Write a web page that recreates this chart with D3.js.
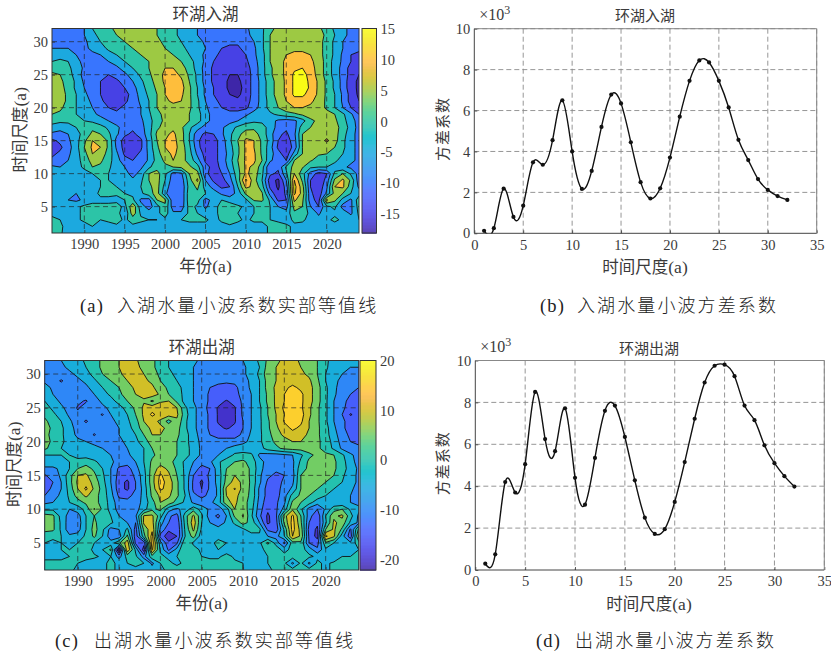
<!DOCTYPE html>
<html><head><meta charset="utf-8">
<script src="https://cdn.jsdelivr.net/npm/d3@7/dist/d3.min.js"></script>
<style>
html,body{margin:0;padding:0;background:#fff}
svg{display:block}
.num{font-family:"Liberation Serif",serif;fill:#3a3a3a}
.cjk{font-family:"Noto Sans CJK SC",sans-serif;fill:#3a3a3a}
</style></head><body>
<svg id="c" width="831" height="655"></svg>
<script>
// ---------- data ----------
const years = d3.range(1986, 2025);
const inflowLevels = [-15,-10,-5,0,5,10,15];
const outflowLevels = [-20,-15,-10,-5,0,5,10,15,20];
const inflowRange = [-18.1,15.1];
const outflowRange = [-22,20];
const yearTicks = [1990,1995,2000,2005,2010,2015,2020];
const scaleTicks = [5,10,15,20,25,30];
const inflowBarTicks = [-15,-10,-5,0,5,10,15];
const outflowBarTicks = [-20,-10,0,10,20];

// rows run from scale 32 (first) down to scale 1 (last); columns are 1986..2024
const inflowGrid = [
[-7,-7,-7,-6,-5, 0,2,4,6,7, 7,7,6,5,3, 1,-1,-3,-5,-6, -7,-7,-7,-7,-6, -3,-1,4,6,7, 7,7,7,6,3, -1,-4,-6,-6],
[-7,-7,-7,-6,-5, -1,1,3,5,7, 7,7,6,5,3, 1,-1,-3,-5,-6, -8,-8,-8,-8,-6, -4,-1,5,7,8, 8,8,8,7,4, 0,-4,-6,-6],
[-7,-7,-6,-6,-6, -3,0,2,3,5, 7,7,7,6,4, 2,0,-2,-3,-6, -8,-9,-9,-9,-7, -5,-1,5,7,8, 9,9,9,7,3, -1,-5,-8,-9],
[-5,-5,-5,-6,-6, -4,-2,1,2,3, 5,6,7,7,5, 3,1,-1,-3,-5, -8,-10,-11,-11,-8, -6,-1,5,7,9, 9,9,9,7,3, -1,-5,-8,-9],
[-3,-2,-3,-5,-7, -6,-5,-2,0,2, 3,5,6,7,6, 5,3,0,-3,-6, -9,-11,-12,-12,-10, -6,-2,5,8,10, 11,11,10,7,3, -1,-6,-10,-11],
[0,1,0,-3,-7, -8,-7,-5,-3,0, 2,3,5,7,8, 7,5,2,-2,-6, -10,-12,-13,-13,-11, -7,-2,5,8,11, 12,12,11,8,3, -2,-6,-10,-13],
[3,3,1,-2,-6, -9,-10,-8,-6,-3, 0,2,5,8,10, 10,7,3,-2,-7, -11,-13,-14,-14,-12, -8,-2,4,8,11, 14,15,12,8,3, -2,-7,-12,-14],
[6,5,2,-2,-7, -9,-10,-10,-8,-6, -3,1,4,8,11, 12,9,4,-1,-7, -11,-13,-15,-15,-13, -8,-2,4,8,11, 16,17,13,8,3, -2,-7,-12,-15],
[8,6,3,-1,-6, -9,-10,-11,-11,-8, -5,-1,3,7,11, 13,11,5,-1,-7, -11,-13,-16,-16,-13, -8,-3,3,7,11, 16,17,14,9,4, -1,-7,-13,-16],
[9,7,3,-1,-5, -8,-10,-12,-12,-10, -7,-2,2,6,10, 13,12,6,0,-6, -10,-13,-16,-17,-13, -8,-3,3,7,11, 16,18,14,9,4, -1,-7,-13,-16],
[10,7,4,0,-4, -7,-10,-13,-14,-12, -8,-3,1,5,10, 12,11,6,0,-6, -10,-12,-15,-16,-13, -8,-3,3,7,11, 16,16,13,9,4, 0,-6,-12,-16],
[8,7,4,0,-3, -6,-9,-12,-13,-11, -8,-4,0,5,9, 11,10,6,1,-5, -9,-11,-14,-14,-12, -8,-3,2,6,10, 13,13,11,8,4, 0,-6,-12,-15],
[7,6,3,0,-3, -5,-8,-10,-11,-9, -8,-5,0,5,8, 8,8,6,1,-4, -8,-10,-11,-12,-11, -7,-3,2,5,8, 10,10,9,8,4, 0,-5,-10,-14],
[5,4,2,0,-2, -4,-6,-8,-9,-9, -8,-5,-1,4,6, 7,7,5,2,-3, -7,-8,-9,-8,-6, -3,-2,-1,1,3, 4,6,7,7,7, 5,1,-4,-10],
[2,1,1,1,0, -1,-3,-5,-7,-8, -8,-6,-2,3,6, 7,7,5,2,-3, -7,-8,-7,-5,-2, -1,-1,-3,-6,-7, -6,-2,4,6,7, 6,2,-3,-7],
[-2,-3,-2,0,2, 4,2,-1,-4,-7, -9,-7,-2,4,7, 9,6,1,-3,-7, -8,-6,-2,1,3, 4,2,-2,-7,-9, -7,3,5,7,8, 7,3,-2,-7],
[-6,-7,-5,-2,2, 6,5,1,-4,-9, -11,-8,-2,6,9, 11,7,0,-8,-11, -10,-6,-1,3,8, 7,3,-3,-9,-11, -6,5,7,7,8, 7,2,-3,-7],
[-11,-9,-6,-2,4, 10,9,4,-7,-12, -13,-11,-3,5,10, 12,7,0,-9,-13, -12,-8,-1,5,11, 10,4,-2,-10,-13, -7,5,6,7,11, 7,1,-3,-7],
[-12,-11,-7,-2,5, 11,10,4,-6,-12, -14,-11,-3,4,10, 12,8,1,-8,-14, -12,-8,-2,4,11, 10,4,-3,-11,-14, -8,5,6,7,6, 5,1,-3,-7],
[-11,-9,-6,-2,3, 10,8,3,-4,-11, -12,-9,-4,3,8, 11,8,2,-6,-12, -12,-8,-3,4,11, 11,4,-3,-8,-13, -3,5,6,5.5,5, 2,0,-3,-7],
[-9,-8,-5,-2,2, 7,6,2,-3,-8, -10,-9,-4,2,6, 10,7,3,-3,-11, -12,-8,-2,5,11, 11,5,-4,-8,-10, 5,6,5.5,3,2, 1,-2,-4,-6],
[-4,-5,-4,-2,1, 5,4,1,-3,-5, -8,-6,-1,3,4, 5,6,6,2,-8, -12,-9,-3,4,11, 9,2,-10,-9,1, 7,5.5,1,0,0, -2,-4,-6,-7],
[-3,-3,-3,-3,-2, 0,1,0,-2,-3, -7,-3,5,7,1, -7,-6,5,7,-9, -12,-10,-5,3,11, 8,1,-9,-11,-1, 10,2,-7,-12,-10, 1,5,-1,-7],
[-2,-2,-3,-3,-3, -1,0,0,-1,-2, -4,-1,5,7,0, -8,-8,3,11,-5, -11,-12,-7,2,16, 7,0,-13,-16,-5, 15,4,-10,-15,-8, 6,11,4,-8],
[-2,-3,-3,-4,-4, -2,0,1,0,-1, -3,0,4,7,-2, -9,-9,2,6,-2, -7,-11,-10,0,11, 9,2,-11,-16,-8, 17,7,-10,-14,-6, 10,11,2,-6],
[-1,-3,-4,-5,-4, -2,1,2,1,0, -1,-1,3,7,-4, -9,-9,3,4,0, -2,-6,-8,-3,6, 8,5.5,-7,-14,-9, 16,8,-9,-13,-4, 7,5,0,-2],
[-1,-3,-5,-6,-4, -2,-1,-2,-2,0, 1,-6,-7,5,6, -9,-9,3,2,-7, -3,0,-2,-4,-1, 5.5,6,-1,-11,-10, 11,6,-8,-12,10.5, 6,-2,-6,3],
[-2,-3,-3,-1,1, 2,1,2,3,-2, 9,-3,-7,-2,4, -8,-8,2,-1,-6, -2,2,3,1,-1, 0,1,0,-5,-7, 7,5,-5,-10,-1, 1,-7,-6,2],
[-1,-2,-3,-2,2, 3,0,1,3,-5, 8,-1,-3,-1,2, -4,-4,1,0,-3, -1,1,0,0,-1, 0,0,0,-1,-3, 4,2,-1,-6,-1, -1,-2,-6,1],
[1,0,-1,-1,1, 2,0,1,2,-1, 2,1,0,0,-1, -1,0,1,1,1, -2,1,3,1,-1, 1,1,0,-1,-2, 1,1,-2,-3,-1, 1,-1,-2,0],
[2,1,-2,-3,-2, 0,-2,-2,-1,-2, -1,-2,-3,-3,-3, -3,-2,-2,-2,-2, -3,-2,-1,-2,-3, -2,-2,1,2,1, -1,-2,-3,-3,-2, -2,-3,-3,-2],
[3,1,-3,-3,-2, -1,-3,-2,0,-3, -2,-3,-3,-3,-3, -3,-3,-3,-3,-3, -3,-3,-2,0,-3, -3,-2,1,2,1, -1,-3,-3,-3,-3, -3,-3,-3,-3]
];

const outflowGrid = [
[-7,-7,-5,-3,-2, 1,3,6,8,10, 12,11,7,6,3, 0,-2,-3,-4,-6, -8,-8,-8,-7,-5, -3,1,6,9,11, 12,9,8,5,1, -2,-4,-5,-5],
[-8,-8,-6,-4,-2, 0,3,6,8,10, 13,12,8,6,3, 0,-2,-3,-5,-7, -9,-9,-8,-8,-6, -3,0,7,10,11, 12,10,8,5,1, -3,-4,-5,-5],
[-8,-8,-7,-6,-4, -2,2,5,7,9, 12,12,10,7,4, 1,-1,-3,-5,-7, -9,-9,-9,-9,-6, -3,1,8,10,11, 12,11,9,5,0, -3,-5,-7,-7],
[-6,-8,-10.5,-8,-6, -4,-1,3,5,8, 10,13,11,9,5, 3,0,-2,-5,-7, -9,-9,-9,-9,-7, -4,0,7,10,12, 13,13,11,6,0, -4,-6,-8,-8],
[-3,-6,-8,-9,-8, -6,-3,0,3,5, 8,11,13,11,7, 4,2,-2,-5,-7, -10,-11,-12,-11,-8, -4,0,7,11,14, 16,14,12,7,1, -4,-7,-9,-10],
[-1,-5,-7,-8,-9, -7,-5,-2,1,4, 7,10,11,13,9, 5,3,-2,-5,-7, -11,-11,-11,-11,-9, -5,0,6,11,15, 17,16,12,7,1, -4,-8,-10,-11],
[0,-3,-6,-8,-9, -10.5,-7,-4,-2,2, 5,8,9.5,4,9.5, 10,4,-2,-5,-7, -11,-13,-15.5,-13,-9, -5,0,6,11,15, 17,16,12,7,1, -5,-9,-11,-12],
[2,-1,-4,-7,-10.5, -8,-7,-6,-4,-2, 2,6,11,13,12, 12,10,1,-4,-7, -12,-15.5,-16,-15.5,-9, -5,-1,5,11,16, 17,16,11,6,1, -5,-9,-12,-13],
[4,1,-2,-6,-9, -8,-8,-10.5,-5,-3, 0,5,11,16,13, 12,11,2,-4,-7, -11,-15.5,-17,-15.5,-9, -5,-1,5,10,15, 17,17,11,6,1, -5,-10,-15.5,-13],
[6,3,0,-4,-8, -10.5,-8,-7,-6,-4, -1,3,10,12,9, 3,9,1,-4,-7, -11,-15.5,-17,-15.5,-10, -5,-1,4,10,15.5, 15.5,16,10,6,1, -5,-9,-12,-13],
[7,4,1,-3,-7, -8,-8,-7,-6,-5, -2,2,8,11,11, 9,7,1,-4,-7, -11,-14,-15.5,-14,-10, -5,-1,4,9,13, 16,14,10,6,2, -4,-9,-12,-13],
[6,4,1,-3,-6, -7,-10.5,-7,-6,-5, -3,0,5,10,10, 8,6,2,-3,-7, -10,-11,-12,-12,-9, -4,-1,3,8,11, 13,12,9,6,2, -3,-8,-11,-13],
[7,4,1,-2,-4, -5,-6,-6,-6,-6, -4,-1,2,8,7, 5,5,2,-3,-6, -8,-9,-8,-8,-6, -4,-1,3,6,8, 10,10,8,6,3, -2,-7,-10,-11],
[6,3,0,-1,-3, -4,-4,-5,-6,-7, -5,-3,0,5,7, 6,5,2,-2,-6, -7,-7,-5,-3,-3, -3,-2,2,4,6, 7,7,7,6,3, -1,-6,-8,-9],
[0,0,0,0,-1, -2,-3,-4,-5,-7, -6,-3,0,4,7, 6,5,2,-2,-6, -7,-5,-3,1,2, 1,-6,-7,-7,-6, -5,-1,4,6,6, 5,1,-4,-7],
[-2,-2,-1,0,1, 3,1,-2,-4,-7, -8,-5,0,6,8, 7,3,-1,-5,-8, -6,-1,3,5,6, 3,-3,-7,-8,-8, -6,1,6,7,8, 6,2,-3,-7],
[-6,-6,-4,0,5, 7,4,0,-5,-11, -12,-7,-1,7,12, 9,4,-1,-7,-12, -10,-2,5,8,8, 4,-3,-8,-9,-9, -6,3,6,7,8, 6,2,-2,-6],
[-10.5,-8,-4,3,10, 11,6,1,-5,-12, -13,-9,-2,8,16, 11,5,-1,-10,-13, -9,-3,6,10,8, 4,-4,-9,-11,-10, -7,5,6,6,6, 5,1,-3,-6],
[-12,-10,-5,3,11, 13,8,2,-5,-13, -16,-10,-2,8,17, 13,6,-1,-11,-16, -9,-3,7,12,9, 4,-4,-11,-12,-9, -6,5,6,6,5, 3,0,-3,-6],
[-12,-9,-5,2,10, 16,9,3,-4,-13, -16,-10,-3,7,16, 13,6,-1,-11,-15, -9,-4,11,15.5,8, 4,-6,-12,-12,-8, -4,5,6,5,3, 0,-2,-4,-7],
[-10,-7,-4,1,7, 11,7,3,-3,-11, -11,-9,-3,6,11, 11,6,0,-9,-11, -9,-4,10,12,7, 4,-6,-12,-12,-7, 2,6,5,3,0, -3,-4,-5,-8],
[-6,-5,-3,0,3, 6,7,3,-2,-8, -9,-8,-3,3,10, 8,3,-1,-6,-8, -6,-3,9,11,7, 3,-7,-13,-11,-6, 6,5,2,-3,-4, -4,-4,-5,-6],
[-1,-1,-3,-5,-3, 2,10.5,4,-2,-7, -9,-7,-2,4,6, -3,-6,-3,3,-2, -6,-7,-3,10,8, 2,-8,-14,-11,-3, 9,1,-7,-10,-4, 3,5,-1,-4],
[7,6,-2,-7,-7, 0,5,3,0,-5, -7,-6,10.5,11,2, -9,-12,3,11,1, -8,-11,-5,6,10.5, 1,-9,-16,-11,8, 16,5,-8,-14,0, 9,11,2,-6],
[7,6,-1,-8,-8, 0,6,2,1,-3, -5,-10,11,12,-3, -10,-14,2,13,0, -5,-8,-4,1,7, 3,-5,-16,-12,6, 17,6,-10,-14,-1, 11,8,-1,-6],
[7,6,-1,-8,-7, 0,7,1,-7,-5, 1,-12,6,14,-6, -14,-15,1,11,-1, -3,-3,-3,-3,-1, 3,1,-11,-13,1, 17,8,-12,-16,5, 11,4,-11,6],
[1,1,0,-4,-3, 1,6,0,-8,-8, 6,-13,3,17,-12, -18,-15,0,7,-3, -2,-1,-2,-4,-5, -3,-1,-5,-7,0, 15,9,-11,-17,16, 11,-3,-13,11],
[0,-1,0,-1,0, 1,0,-2,-3,4, 13,-11,-13,18,-3, -14,-11,5,-1,-4, -1,1,0,-3,-3, -2,-1,6,-2,-11, 3,4,-10,-12,4, 0,-2,-4,3],
[-1,-1,0,0,1, 4,-2,0,6,-22, 14,-1,-18,16,-1, -11,-3,5,2,-1, -1,0,-3,-3,-3, -2,-1,1,3,-2, 2,2,-2,-9,-1, -2,-3,-3,0],
[-1,-1,-1,0,1, 2,1,-1,0,-7, 2,1,-7,3,1, -1,0,2,1,0, -1,-1,2,-1,-3, -2,-1,0,2,2, 2,2,1,-1,-3, -4,0,0,1],
[1,1,1,1,0, -2,-3,-1,1,-1, 0,1,0,-6,0, 1,-1,1,1,1, 2,2,1,1,0, -1,-1,0,1,1, -6,1,-6,1,-1, 1,2,2,2],
[1,1,1,1,-1, -3,-4,-2,2,-2, -1,-1,-2,-3,-2, 2,2,2,2,2, 2,2,2,1,0, -1,-1,-2,2,2, 2,2,2,1,-1, 1,2,2,2]
];

const scales = d3.range(1, 33);
const inflowVariance = [.12,.25,2.18,.8,1.35,3.47,3.35,4.55,6.5,4.0,2.17,3.05,5.2,6.78,6.35,4.45,2.5,1.7,2.2,3.7,5.7,7.45,8.45,8.35,7.45,6.15,4.57,3.58,2.65,2.12,1.82,1.63];
const outflowVariance = [.3,.75,4.2,3.7,5.05,8.5,6.25,5.67,7.72,4.4,3.12,5.35,7.6,7.85,6.35,4.28,2.5,1.72,1.95,3.25,5.15,7.22,8.95,9.75,9.8,9.25,7.85,7.15,5.95,5.1,4.48,3.98];
const parulaMap = [[.2422,.1504,.6603],[.2504,.1650,.7076],[.2578,.1818,.7511],[.2647,.1978,.7952],[.2706,.2147,.8364],[.2751,.2342,.8710],[.2783,.2559,.8991],[.2803,.2782,.9221],[.2813,.3006,.9414],[.2810,.3228,.9579],[.2795,.3447,.9717],[.2760,.3667,.9829],[.2699,.3892,.9906],[.2602,.4123,.9952],[.2440,.4358,.9988],[.2206,.4603,.9973],[.1963,.4847,.9892],[.1834,.5074,.9798],[.1786,.5289,.9682],[.1764,.5499,.9520],[.1687,.5703,.9359],[.1540,.5902,.9218],[.1460,.6091,.9079],[.1380,.6276,.8973],[.1248,.6459,.8883],[.1113,.6635,.8763],[.0952,.6798,.8598],[.0689,.6948,.8394],[.0297,.7082,.8163],[.0036,.7203,.7917],[.0067,.7312,.7660],[.0433,.7411,.7394],[.0964,.7500,.7120],[.1408,.7584,.6842],[.1717,.7670,.6554],[.1938,.7758,.6251],[.2161,.7843,.5923],[.2470,.7918,.5567],[.2906,.7973,.5188],[.3406,.8008,.4789],[.3909,.8029,.4354],[.4456,.8024,.3909],[.5044,.7993,.3480],[.5616,.7942,.3045],[.6174,.7876,.2612],[.6720,.7793,.2227],[.7242,.7698,.1910],[.7738,.7598,.1646],[.8203,.7498,.1535],[.8634,.7406,.1596],[.9035,.7330,.1774],[.9393,.7288,.2100],[.9728,.7298,.2394],[.9956,.7434,.2371],[.9970,.7659,.2199],[.9952,.7861,.1990],[.9892,.8135,.1767],[.9786,.8386,.1498],[.9676,.8639,.1309],[.9610,.8890,.1153],[.9597,.9135,.1032],[.9628,.9373,.0953],[.9691,.9606,.0894],[.9769,.9839,.0805]];

// ---------- drawing ----------
const svg = d3.select("#c");
const parula = t => {
  const c = parulaMap[Math.max(0, Math.min(63, Math.round(t*63)))];
  return `rgb(${c.map(v=>Math.round(v*255)).join(",")})`;
};
const FS_TICK = 14.5, FS_CJK = 16.5;
function text(x,y,s,cls,size,anchor="middle",rot=null){
  const t = svg.append("text").attr("class",cls).attr("font-size",size).attr("text-anchor",anchor).text(s);
  if(rot!==null) t.attr("transform",`translate(${x},${y}) rotate(${rot})`); else t.attr("x",x).attr("y",y);
  return t;
}
function mixedLabel(x,y,s,rot=null){
  const t = text(x,y,"", "cjk", FS_CJK, "middle", rot);
  t.append("tspan").text(s);
  t.append("tspan").attr("font-family","Liberation Serif").attr("font-size",17.5).text("(a)");
}
function styleAxis(g, fs){
  g.select(".domain").remove();
  g.selectAll("line").attr("stroke","#333").attr("stroke-width",.8);
  g.selectAll("text").attr("class","num").attr("font-size",fs);
}
function box(L,T,R,B,stroke="#333"){
  svg.append("rect").attr("x",L).attr("y",T).attr("width",R-L).attr("height",B-T)
    .attr("fill","none").attr("stroke",stroke).attr("stroke-width",1);
}
function contourPanel(id,grid,levels,range,barTicks,P,bar,lab){
  const {L,T,R,B}=P;
  const x=d3.scaleLinear().domain([1986,2024]).range([L,R]);
  const y=d3.scaleLinear().domain([1,32]).range([B,T]);
  const clip="clip"+id;
  svg.append("clipPath").attr("id",clip).append("rect").attr("x",L).attr("y",T).attr("width",R-L).attr("height",B-T);
  const g=svg.append("g").attr("clip-path",`url(#${clip})`);
  const col=v=>parula((v-range[0])/(range[1]-range[0]));
  g.append("rect").attr("x",L).attr("y",T).attr("width",R-L).attr("height",B-T).attr("fill",col(range[0]));
  const flat=[...grid].reverse().flat();
  const path=d3.geoPath(d3.geoTransform({point(px,py){
    this.stream.point(x(years[0]+px-.5), y(scales[0]+py-.5));
  }}));
  const cs=d3.contours().size([years.length,scales.length]).smooth(true).thresholds(levels)(flat);
  g.selectAll("path").data(cs).join("path").attr("d",path)
    .attr("fill",d=>col(d.value)).attr("stroke","#111").attr("stroke-width",.9).attr("stroke-linejoin","round");
  const gg=svg.append("g").attr("stroke","#222").attr("stroke-width",.8).attr("stroke-dasharray","5 3.5").attr("opacity",.85);
  gg.selectAll("line.v").data(yearTicks).join("line").attr("class","v").attr("x1",d=>x(d)).attr("x2",d=>x(d)).attr("y1",T).attr("y2",B);
  gg.selectAll("line.h").data(scaleTicks).join("line").attr("class","h").attr("y1",d=>y(d)).attr("y2",d=>y(d)).attr("x1",L).attr("x2",R);
  const ax=svg.append("g").attr("transform",`translate(0,${B})`).call(d3.axisBottom(x).tickValues(yearTicks).tickFormat(d3.format("d")).tickSize(-3).tickPadding(lab.xPad));
  styleAxis(ax,FS_TICK);
  const ay=svg.append("g").attr("transform",`translate(${L},0)`).call(d3.axisLeft(y).tickValues(scaleTicks).tickSize(-3).tickPadding(lab.yPad));
  styleAxis(ay,FS_TICK);
  box(L,T,R,B);
  const cb=d3.scaleLinear().domain(range).range([B,T]);
  svg.append("g").selectAll("rect").data(d3.range(B-T)).join("rect")
    .attr("x",bar.L).attr("width",bar.R-bar.L).attr("y",d=>T+d).attr("height",1.2)
    .attr("fill",d=>parula(1-d/(B-T)));
  const ac=svg.append("g").attr("transform",`translate(${bar.R},0)`).call(d3.axisRight(cb).tickValues(barTicks).tickFormat(d=>d<0?"-"+Math.abs(d):d).tickSize(0).tickPadding(4));
  styleAxis(ac,FS_TICK);
  box(bar.L,T,bar.R,B);
  text((L+R)/2,lab.titleY,lab.title,"cjk",FS_CJK);
  mixedLabel((L+R)/2,lab.xlabelY,"年份");
  mixedLabel(lab.ylabelX,(T+B)/2-1,"时间尺度",-90);
}
function linePanel(id,values,P,lab){
  const {L,T,R,B}=P;
  const x=d3.scaleLinear().domain([0,35]).range([L,R]);
  const y=d3.scaleLinear().domain([0,10]).range([B,T]);
  const xt=d3.range(0,36,5), yt=d3.range(0,11,2);
  const gg=svg.append("g").attr("stroke","#8a8a8a").attr("stroke-width",.9).attr("stroke-dasharray","5 3");
  gg.selectAll("line.v").data(xt.slice(1)).join("line").attr("class","v").attr("x1",d=>x(d)).attr("x2",d=>x(d)).attr("y1",T).attr("y2",B);
  gg.selectAll("line.h").data(yt.slice(1)).join("line").attr("class","h").attr("y1",d=>y(d)).attr("y2",d=>y(d)).attr("x1",L).attr("x2",R);
  const clip="clip"+id;
  svg.append("clipPath").attr("id",clip).append("rect").attr("x",L).attr("y",T).attr("width",R-L).attr("height",B-T+.5);
  const line=d3.line().x((d,i)=>x(scales[i])).y(d=>y(d)).curve(d3.curveNatural);
  svg.append("path").attr("clip-path",`url(#${clip})`).attr("d",line(values)).attr("fill","none").attr("stroke","#111").attr("stroke-width",1.4);
  svg.append("g").selectAll("circle").data(values).join("circle").attr("cx",(d,i)=>x(scales[i])).attr("cy",d=>y(d)).attr("r",2.1).attr("fill","#111");
  const ax=svg.append("g").attr("transform",`translate(0,${B})`).call(d3.axisBottom(x).tickValues(xt).tickSize(-3).tickPadding(lab.xPad));
  styleAxis(ax,FS_TICK);
  const ay=svg.append("g").attr("transform",`translate(${L},0)`).call(d3.axisLeft(y).tickValues(yt).tickSize(-3).tickPadding(lab.yPad));
  styleAxis(ay,FS_TICK);
  svg.append("path").attr("d",`M${L},${T}V${B}H${R}`).attr("fill","none").attr("stroke","#444").attr("stroke-width",1);
  svg.append("path").attr("d",`M${L},${T}H${R}V${B}`).attr("fill","none").attr("stroke","#888").attr("stroke-width",1);
  text(lab.titleX,lab.titleY,lab.title,"cjk",15);
  mixedLabel(lab.titleX,lab.xlabelY,"时间尺度");
  text(lab.ylabelX,(T+B)/2-2,"方差系数","cjk",15,"middle",-90).attr("letter-spacing",1);
  const m=svg.append("text").attr("class","num").attr("x",L+5).attr("y",lab.magY).attr("font-size",16).text("×10");
  m.append("tspan").attr("dy",-6).attr("font-size",12).text("3");
}
function caption(markX,y,mark,textX,s){
  svg.append("text").attr("x",markX).attr("y",y).attr("font-family","Liberation Serif").attr("font-size",18.5).attr("fill","#222").attr("letter-spacing",1.2).text(mark);
  svg.append("text").attr("x",textX).attr("y",y).attr("font-family","Noto Sans CJK SC").attr("font-size",18).attr("fill","#222").attr("font-weight",300).attr("letter-spacing",2.1).text(s);
}

contourPanel("a",inflowGrid,inflowLevels,inflowRange,inflowBarTicks,{L:52,T:28.5,R:359,B:233},{L:362,R:376.5},
  {title:"环湖入湖",titleY:20,xlabelY:272,ylabelX:26,xPad:6,yPad:4});
contourPanel("c",outflowGrid,outflowLevels,outflowRange,outflowBarTicks,{L:44.7,T:360.5,R:358.7,B:570},{L:360,R:376},
  {title:"环湖出湖",titleY:353,xlabelY:609,ylabelX:19.5,xPad:6,yPad:4});
linePanel("b",inflowVariance,{L:474.3,T:28.7,R:816.7,B:233.3},{title:"环湖入湖",titleX:645,titleY:21,xlabelY:273,ylabelX:448,xPad:6,yPad:4,magY:20});
linePanel("d",outflowVariance,{L:475.3,T:360.5,R:824.3,B:570},{title:"环湖出湖",titleX:649,titleY:354,xlabelY:610,ylabelX:448,xPad:6,yPad:4,magY:352});
caption(80,312,"(a)",117,"入湖水量小波系数实部等值线");
caption(540,312,"(b)",577,"入湖水量小波方差系数");
caption(55,647,"(c)",94,"出湖水量小波系数实部等值线");
caption(536,647,"(d)",575,"出湖水量小波方差系数");
</script>
</body></html>
